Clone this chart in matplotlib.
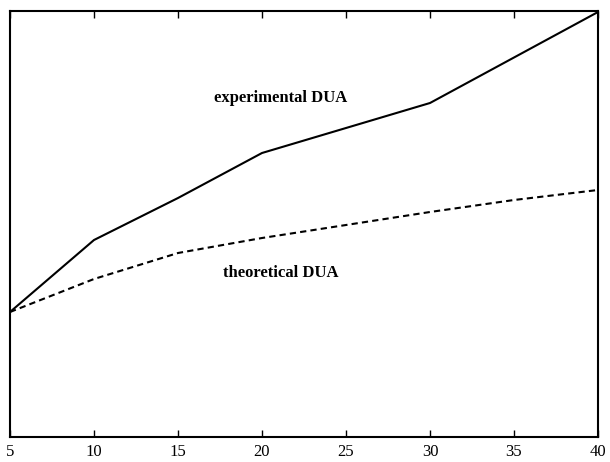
import matplotlib
matplotlib.use('Agg')
import matplotlib.pyplot as plt

# values (y has no scale, arbitrary units)
exp_x = [5, 10, 15, 20, 30, 40]
exp_y = [125, 197, 239, 284, 334, 425]

theo_x = [5, 10, 15, 20, 25, 30, 35, 40]
theo_y = [125, 158, 184, 199, 212, 225, 237, 247]

xticks = [5, 10, 15, 20, 25, 30, 35, 40]

plt.rcParams['font.family'] = 'Liberation Serif'

fig = plt.figure(figsize=(6.1, 4.62), dpi=100)
ax = fig.add_axes([10 / 610, 1 - 437 / 462, 588 / 610, 426 / 462])

ax.plot(exp_x, exp_y, color='black', lw=1.5)
ax.plot(theo_x, theo_y, color='black', lw=1.5, linestyle=(0, (3, 2)))

ax.text(21.1, 339, 'experimental DUA', fontsize=12, fontweight='bold',
        ha='center', va='center')
ax.text(21.1, 164, 'theoretical DUA', fontsize=12, fontweight='bold',
        ha='center', va='center')

ax.set_xlim(5, 40)
ax.set_ylim(0, 426)
ax.set_xticks(xticks)
ax.set_xticklabels([str(t) for t in xticks], fontsize=12)
ax.set_yticks([])
ax.tick_params(axis='x', direction='in', top=True, length=5, width=1, pad=5)
for s in ax.spines.values():
    s.set_linewidth(1.5)

fig.savefig('out.png', dpi=100)
